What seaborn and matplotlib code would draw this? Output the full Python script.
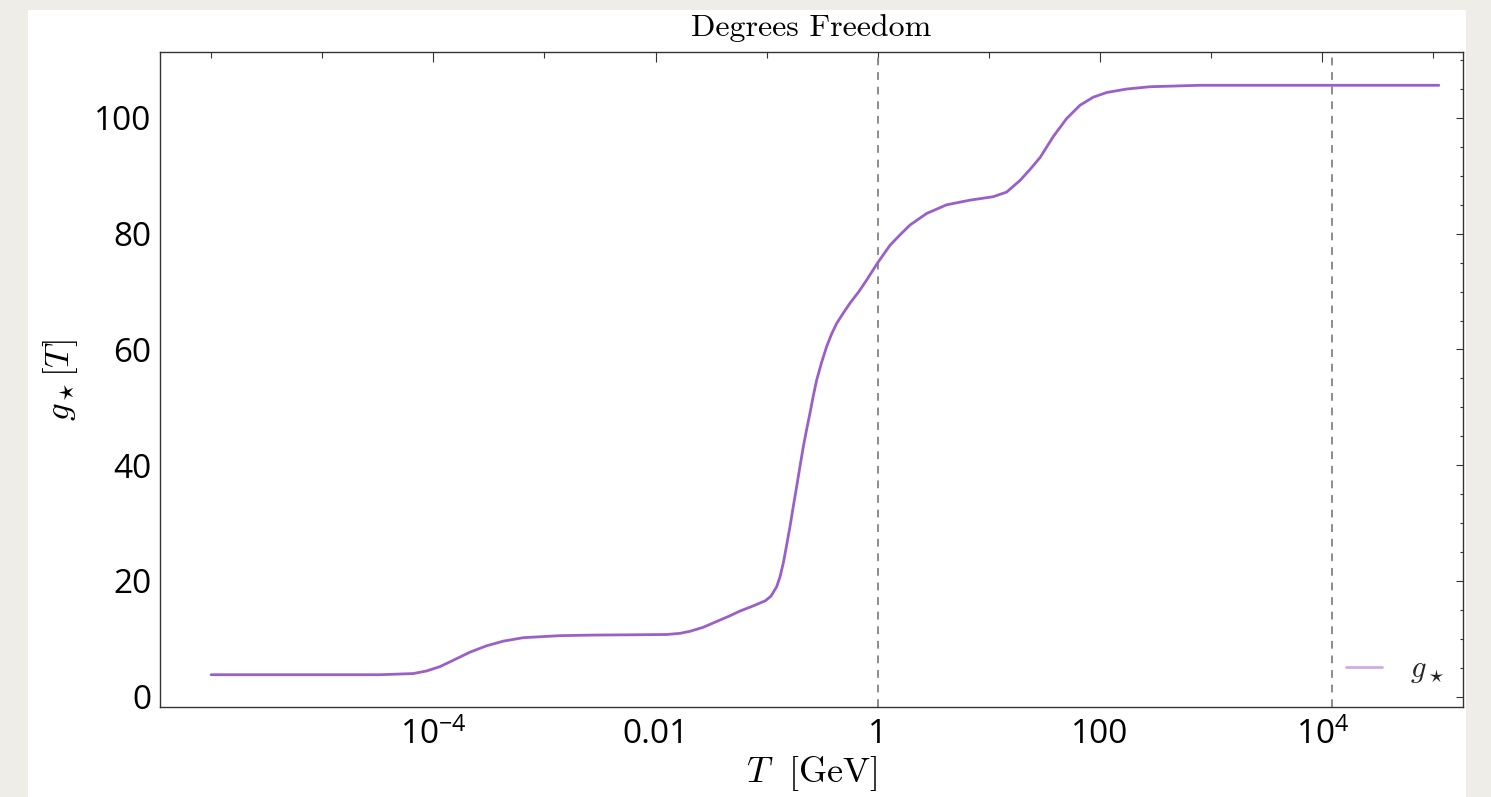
import numpy as np
import pandas as pd
import matplotlib
matplotlib.use("Agg")
import matplotlib.pyplot as plt
import seaborn as sns
from matplotlib.patches import Rectangle
from matplotlib.ticker import FixedLocator, FixedFormatter, MultipleLocator

# ---- data ----
log10_T = [-6.0, -5.0, -4.48, -4.18, -4.06, -3.94, -3.82, -3.67, -3.52, -3.37,
           -3.19, -2.86, -2.56, -2.2, -1.90, -1.78, -1.69, -1.57, -1.45, -1.34,
           -1.24, -1.12, -1.01, -0.96, -0.91, -0.88, -0.85, -0.82, -0.79, -0.76,
           -0.73, -0.70, -0.67, -0.64, -0.61, -0.58, -0.55, -0.505, -0.46, -0.415,
           -0.37, -0.31, -0.25, -0.17, -0.10, 0.0, 0.11, 0.20, 0.29, 0.44,
           0.62, 0.83, 1.04, 1.16, 1.28, 1.37, 1.462, 1.58, 1.70, 1.82,
           1.94, 2.06, 2.24, 2.45, 2.90, 4.0, 5.05]
g_star = [3.8, 3.8, 3.8, 4.0, 4.45, 5.2, 6.3, 7.7, 8.8, 9.6,
          10.2, 10.55, 10.65, 10.7, 10.75, 10.95, 11.3, 12.0, 13.0, 13.9,
          14.8, 15.7, 16.6, 17.4, 19.0, 20.7, 23.1, 26.2, 29.4, 32.9,
          36.3, 39.8, 43.2, 46.2, 49.0, 52.0, 54.7, 57.8, 60.5, 62.7,
          64.5, 66.3, 68.0, 70.0, 72.0, 75.0, 78.0, 79.8, 81.5, 83.5,
          85.0, 85.8, 86.4, 87.2, 89.2, 91.1, 93.2, 96.8, 99.9, 102.2,
          103.6, 104.4, 105.0, 105.4, 105.65, 105.65, 105.65]
vlines_T = [1.0, 1.23e4]
xtick_major = [1e-4, 1e-2, 1, 1e2, 1e4]
xtick_labels = [r"$\mathdefault{10^{-4}}$", "0.01", "1", "100", r"$\mathdefault{10^{4}}$"]
xtick_minor = [1e-6, 1e-5, 1e-3, 1e-1, 1e1, 1e3, 1e5]
ytick_major = [0, 20, 40, 60, 80, 100]

df = pd.DataFrame({"T": 10.0 ** np.array(log10_T), "g": g_star})

sns.set_theme(style="white")
plt.rcParams["mathtext.fontset"] = "cm"
plt.rcParams["font.family"] = ["Open Sans", "DejaVu Sans"]
plt.rcParams["font.weight"] = "medium"
plt.rcParams["axes.unicode_minus"] = False

W, H = 1491, 797
fig = plt.figure(figsize=(W / 100, H / 100), dpi=100)
fig.patch.set_facecolor("#EEEDE7")
fig.patches.append(Rectangle((28 / W, 0), (1466 - 28) / W, 1 - 10 / H,
                             transform=fig.transFigure, facecolor="white",
                             edgecolor="none", zorder=-5))

ax = fig.add_axes([160 / W, 1 - 707.3 / H, (1463.3 - 160) / W, (707.3 - 52.3) / H])
ax.set_zorder(2)
ax.set_facecolor("white")

line_color = "#9B5FC8"
sns.lineplot(data=df, x="T", y="g", ax=ax, color=line_color, lw=2.0,
             label=r"$g_\star$", zorder=3)
for v in vlines_T:
    ax.axvline(v, color="#8c8c8c", lw=1.4, ls=(0, (4, 3.5)), zorder=2)

ax.set_xscale("log")
ax.set_xlim(10 ** -6.46, 10 ** 5.27)
ax.set_ylim(-1.83, 111.35)

ax.xaxis.set_major_locator(FixedLocator(xtick_major))
ax.xaxis.set_major_formatter(FixedFormatter(xtick_labels))
ax.xaxis.set_minor_locator(FixedLocator(xtick_minor))
ax.xaxis.set_minor_formatter(FixedFormatter([""] * len(xtick_minor)))
ax.yaxis.set_major_locator(FixedLocator(ytick_major))
ax.yaxis.set_minor_locator(MultipleLocator(5))

tick_col = "#333333"
ax.tick_params(axis="both", which="both", direction="in", top=True, right=True,
               color=tick_col, width=0.8, labelsize=24, labelcolor="black")
ax.tick_params(axis="x", which="major", length=7.5, pad=8)
ax.tick_params(axis="x", which="minor", length=4)
ax.tick_params(axis="y", which="major", length=4.7, pad=6)
ax.tick_params(axis="y", which="minor", length=2.5)
for lab in ax.get_xticklabels() + ax.get_yticklabels():
    lab.set_fontweight("medium")
for s in ax.spines.values():
    s.set_color(tick_col)
    s.set_linewidth(1.0)

ax.set_xlabel(r"$T\ \ [\mathrm{GeV}]$", fontsize=26, labelpad=1, color="black")
ax.set_ylabel(r"$g_\star[T]$", fontsize=25, labelpad=10, color="black")
fig.text(811 / W, 1 - 28 / H, "Degrees Freedom", fontname="cmr10",
         fontsize=23, ha="center", va="center", color="black")

leg = ax.legend(loc="center", bbox_to_anchor=(0.9476, 0.057), frameon=False,
                fontsize=22, handlelength=1.2, handletextpad=0.9)
for l in leg.get_lines():
    l.set_alpha(0.5)
    l.set_linewidth(2.0)

fig.savefig("out.png", dpi=100, facecolor=fig.get_facecolor())
